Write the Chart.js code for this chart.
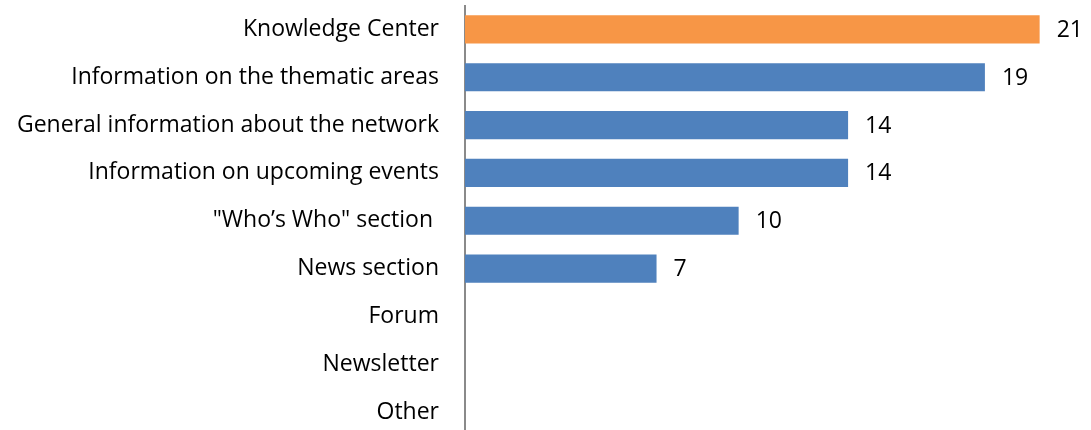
<!DOCTYPE html>
<html>
<head>
<meta charset="utf-8">
<script src="https://cdn.jsdelivr.net/npm/chart.js@4"></script>
<style>
  html, body { margin: 0; padding: 0; background: #fff; overflow: hidden; }
  #wrap { position: relative; width: 1091px; height: 436px; }
</style>
</head>
<body>
<div id="wrap"><canvas id="chart"></canvas></div>
<script>
const categories = [
  "Knowledge Center",
  "Information on the thematic areas",
  "General information about the network",
  "Information on upcoming events",
  "\"Who\u2019s Who\" section ",
  "News section",
  "Forum",
  "Newsletter",
  "Other",
];
const counts = [21, 19, 14, 14, 10, 7, 0, 0, 0];
const barColors = ["#F79646", "#4F81BD", "#4F81BD", "#4F81BD", "#4F81BD", "#4F81BD", "#4F81BD", "#4F81BD", "#4F81BD"];

const FONT = "'Open Sans', Lato, sans-serif";
const FONT_SIZE = 23;

// value labels at the end of each bar (empty rows get none)
const valueLabels = {
  id: "valueLabels",
  afterDatasetsDraw(c) {
    const ctx = c.ctx;
    const meta = c.getDatasetMeta(0);
    ctx.save();
    ctx.font = FONT_SIZE + "px " + FONT;
    ctx.fillStyle = "#000";
    ctx.textAlign = "left";
    ctx.textBaseline = "middle";
    meta.data.forEach((bar, i) => {
      if (!counts[i]) return;
      ctx.fillText(String(counts[i]), bar.x + 17, bar.y + 1);
    });
    ctx.restore();
  },
};

chart = new Chart(document.getElementById("chart"), {
  type: "bar",
  data: {
    labels: categories,
    datasets: [
      {
        data: counts,
        backgroundColor: barColors,
        borderWidth: 0,
        barPercentage: 0.59,
        categoryPercentage: 1,
      },
    ],
  },
  options: {
    indexAxis: "y",
    responsive: true,
    maintainAspectRatio: false,
    animation: false,
    layout: { padding: { top: 5.5, right: 24, bottom: 0, left: 0 } },
    plugins: { legend: { display: false }, tooltip: { enabled: false } },
    scales: {
      x: {
        min: 0,
        max: 22,
        display: false,
        grid: { display: false },
      },
      y: {
        grid: { display: false, drawTicks: false },
        border: { display: true, color: "#8a8a8a", width: 2 },
        ticks: {
          color: "#000",
          padding: 26,
          font: { family: FONT, size: FONT_SIZE },
        },
        afterFit: (scale) => {
          scale.width = 465;
          scale.paddingTop = 0;
          scale.paddingBottom = 0;
        },
      },
    },
  },
  plugins: [valueLabels],
});
</script>
</body>
</html>
